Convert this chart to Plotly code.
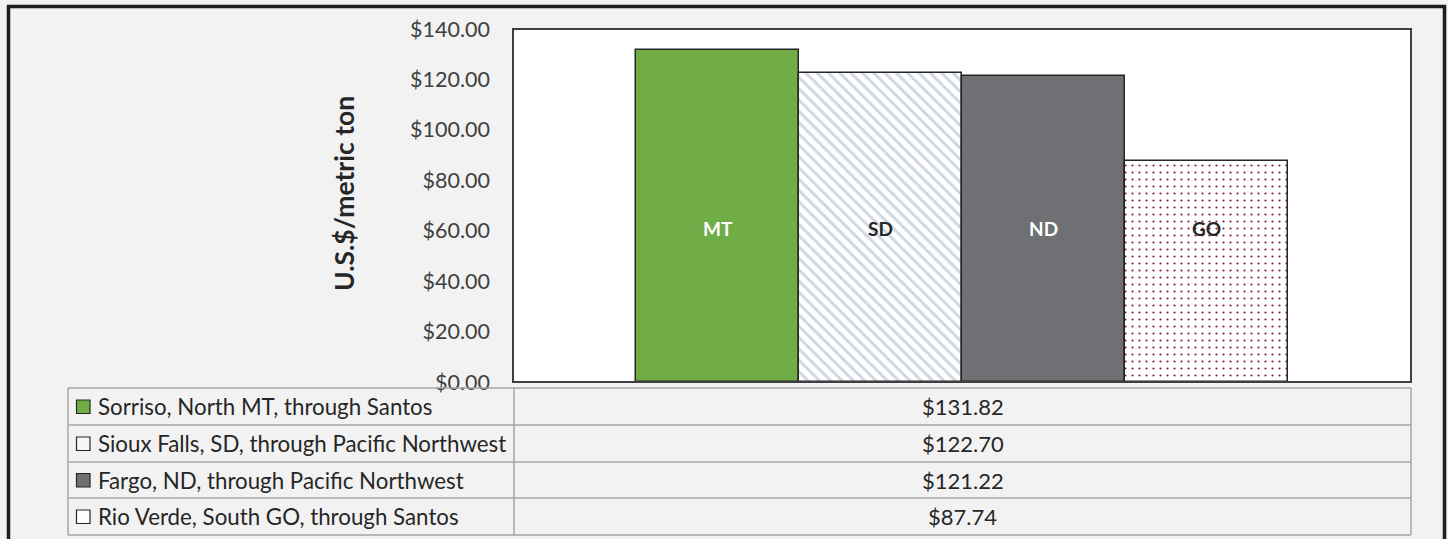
import plotly.graph_objects as go

# ---- data ----
codes = ["MT", "SD", "ND", "GO"]
series_names = [
    "Sorriso, North MT, through Santos",
    "Sioux Falls, SD, through Pacific Northwest",
    "Fargo, ND, through Pacific Northwest",
    "Rio Verde, South GO, through Santos",
]
values = [131.82, 122.70, 121.22, 87.74]
y_ticks = [0, 20, 40, 60, 80, 100, 120, 140]

# ---- styles ----
fill_colors = ["#70AD47", "#FFFFFF", "#6F7074", "#FFFFFF"]
pattern_shapes = ["", "\\", "", "."]
pattern_fg = ["#70AD47", "#D0D7E2", "#6F7074", "#84184A"]
pattern_size = [8, 8, 8, 7]
pattern_solid = [0.3, 0.36, 0.3, 0.08]
label_colors = ["#FFFFFF", "#262626", "#FFFFFF", "#262626"]
key_fill = ["#70AD47", "#F4F6F9", "#6F7074", "#FFFFFF"]

FONT = "Lato"
W, H = 1448, 539
L, R, T, B = 513, 1411, 29, 382
PW, PH = R - L, B - T


def xp(px):
    return (px - L) / PW


def yp(py):
    return (B - py) / PH


fig = go.Figure()
for i, (c, v) in enumerate(zip(codes, values)):
    fig.add_trace(go.Bar(
        x=[c],
        y=[v],
        name=series_names[i],
        marker=dict(
            color=fill_colors[i],
            line=dict(color="#262626", width=1.5),
            pattern=dict(shape=pattern_shapes[i], fgcolor=pattern_fg[i], bgcolor=fill_colors[i],
                         size=pattern_size[i], solidity=pattern_solid[i], fillmode="replace"),
        ),
        hoverinfo="skip",
        showlegend=False,
    ))

annotations = []
for c, col in zip(codes, label_colors):
    annotations.append(dict(x=c, y=61, xref="x", yref="y", text=f"<b>{c}</b>",
                            showarrow=False, font=dict(family=FONT, size=19, color=col)))

# y-axis title
annotations.append(dict(x=xp(344), y=yp(194), xref="paper", yref="paper",
                        xanchor="center", yanchor="middle",
                        text="<b>U.S.$/metric ton</b>", textangle=-90, showarrow=False,
                        font=dict(family=FONT, size=26.5, color="#262626")))

shapes = []
# outer frame
shapes.append(dict(type="rect", xref="paper", yref="paper", x0=xp(8.5), x1=xp(1444.5),
                   y0=yp(6.5), y1=yp(600), line=dict(color="#1E1E1E", width=3.5),
                   layer="below"))
# plot border
shapes.append(dict(type="rect", xref="paper", yref="paper", x0=0, x1=1, y0=0, y1=1,
                   line=dict(color="#3F3F3F", width=2)))

# data table
row_lines = [388, 425, 462, 498, 535]
tab_left, tab_mid, tab_right = 68, 514, 1411
grid_col = "#A6A6A6"
for ry in row_lines:
    shapes.append(dict(type="line", xref="paper", yref="paper", x0=xp(tab_left), x1=xp(tab_right),
                       y0=yp(ry), y1=yp(ry), line=dict(color=grid_col, width=1.5)))
for cx in [tab_left, tab_mid, tab_right]:
    shapes.append(dict(type="line", xref="paper", yref="paper", x0=xp(cx), x1=xp(cx),
                       y0=yp(row_lines[0]), y1=yp(row_lines[-1]), line=dict(color=grid_col, width=1.5)))

for i, (name, v) in enumerate(zip(series_names, values)):
    top, bot = row_lines[i], row_lines[i + 1]
    cy = (top + bot) / 2
    shapes.append(dict(type="rect", xref="paper", yref="paper", x0=xp(76.5), x1=xp(90),
                       y0=yp(cy - 6.5), y1=yp(cy + 7), fillcolor=key_fill[i],
                       line=dict(color="#262626", width=1.2)))
    annotations.append(dict(x=xp(96), y=yp(cy), xref="paper", yref="paper", text=name,
                            xanchor="left", yanchor="middle", showarrow=False,
                            font=dict(family=FONT, size=22.3, color="#262626")))
    annotations.append(dict(x=xp((tab_mid + tab_right) / 2), y=yp(cy), xref="paper", yref="paper",
                            text=f"${v:.2f}", xanchor="center", yanchor="middle", showarrow=False,
                            font=dict(family=FONT, size=22, color="#262626")))

fig.update_layout(
    width=W, height=H,
    margin=dict(l=L, r=W - R, t=T, b=H - B, pad=0),
    paper_bgcolor="#F2F2F2",
    plot_bgcolor="#FFFFFF",
    barmode="overlay",
    bargap=0,
    xaxis=dict(range=[-1.255, 4.255], showticklabels=False, showgrid=False, zeroline=False,
               showline=False, ticks=""),
    yaxis=dict(range=[0, 140], tickvals=y_ticks,
               ticktext=[f"${t:.2f}" for t in y_ticks],
               showgrid=False, zeroline=False, showline=False, ticks="",
               ticklabelstandoff=22,
               tickfont=dict(family=FONT, size=21.5, color="#404040")),
    shapes=shapes,
    annotations=annotations,
    font=dict(family=FONT),
)

fig.write_html("out.html", config={"displayModeBar": False},
               post_script="document.body.style.margin='0';")
